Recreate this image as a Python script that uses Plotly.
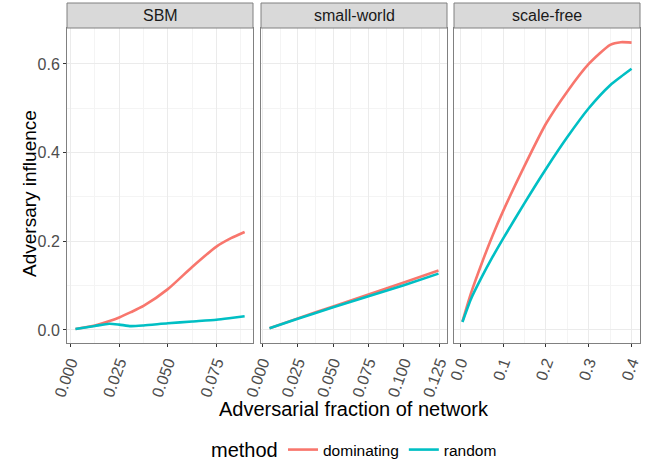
import plotly.graph_objects as go

# ---- data ----
panels = ["SBM", "small-world", "scale-free"]

sbm_x = [0.0025, 0.0125, 0.02, 0.025, 0.031, 0.0375, 0.05, 0.0625, 0.075, 0.0825, 0.0895]
sbm_dom = [0.002, 0.010, 0.020, 0.028, 0.040, 0.054, 0.092, 0.142, 0.188, 0.207, 0.221]
sbm_rand = [0.002, 0.009, 0.014, 0.012, 0.0085, 0.010, 0.015, 0.019, 0.023, 0.027, 0.031]

sw_x = [0.005, 0.025, 0.05, 0.075, 0.1, 0.1245]
sw_dom = [0.004, 0.026, 0.053, 0.080, 0.107, 0.134]
sw_rand = [0.004, 0.025, 0.051, 0.076, 0.101, 0.127]

sf_x = [0.005, 0.025, 0.05, 0.075, 0.1, 0.15, 0.2, 0.25, 0.3, 0.35, 0.375, 0.4]
sf_dom = [0.019, 0.083, 0.150, 0.212, 0.268, 0.370, 0.465, 0.538, 0.600, 0.643, 0.649, 0.648]
sf_rand = [0.018, 0.070, 0.119, 0.164, 0.206, 0.286, 0.363, 0.435, 0.500, 0.552, 0.571, 0.589]

y_ticks = [0.0, 0.2, 0.4, 0.6]
y_labels = ["0.0", "0.2", "0.4", "0.6"]
sbm_ticks = [0.0, 0.025, 0.05, 0.075]
sbm_labels = ["0.000", "0.025", "0.050", "0.075"]
sw_ticks = [0.0, 0.025, 0.05, 0.075, 0.1, 0.125]
sw_labels = ["0.000", "0.025", "0.050", "0.075", "0.100", "0.125"]
sf_ticks = [0.0, 0.1, 0.2, 0.3, 0.4]
sf_labels = ["0.0", "0.1", "0.2", "0.3", "0.4"]

methods = ["dominating", "random"]
colors = {"dominating": "#F8766D", "random": "#00BFC4"}

# ---- layout geometry ----
W, H = 654, 461
ML, MR, MT, MB = 67, 14, 28, 118
PW = W - ML - MR
PH = H - MT - MB
doms = [(67, 253), (261, 447), (454, 640)]
domains = [[(a - ML) / PW, (b - ML) / PW] for a, b in doms]

def px_x(p):
    return (p - ML) / PW

def px_y(p):
    return 1 - (p - MT) / PH

fig = go.Figure()

series = [
    (sbm_x, sbm_dom, sbm_rand),
    (sw_x, sw_dom, sw_rand),
    (sf_x, sf_dom, sf_rand),
]
for i, (xs, d, r) in enumerate(series):
    ax = "x" if i == 0 else f"x{i+1}"
    ay = "y" if i == 0 else f"y{i+1}"
    for m, ys in zip(methods, [d, r]):
        fig.add_trace(go.Scatter(
            x=xs, y=ys, mode="lines", name=m, xaxis=ax, yaxis=ay,
            line=dict(color=colors[m], width=2.6, shape="spline", smoothing=0.6),
            showlegend=(i == 0), legendgroup=m,
        ))

font_family = "Liberation Sans, Arial, sans-serif"
tickfont = dict(family=font_family, size=16, color="#4D4D4D")

def xaxis(dom, rng, ticks, labels, minor_dtick, anchor):
    return dict(
        domain=dom, range=rng, tickmode="array", tickvals=ticks, ticktext=labels,
        tickangle=-70, tickfont=tickfont, ticks="outside", ticklen=3, tickcolor="#333333",
        showgrid=True, gridcolor="#EBEBEB", gridwidth=1.1,
        minor=dict(dtick=minor_dtick, tick0=minor_dtick, showgrid=True, gridcolor="#F4F4F4", gridwidth=0.6),
        showline=True, mirror=True, linecolor="#808080", linewidth=1,
        zeroline=False, anchor=anchor, automargin=False,
    )

def yaxis(show_labels, anchor):
    return dict(
        domain=[0, 1], range=[-0.0295, 0.681], tickmode="array", tickvals=y_ticks,
        ticktext=y_labels, showticklabels=show_labels, tickfont=tickfont,
        ticks="outside" if show_labels else "", ticklen=3, tickcolor="#333333",
        showgrid=True, gridcolor="#EBEBEB", gridwidth=1.1,
        minor=dict(tickvals=[0.1, 0.3, 0.5], showgrid=True, gridcolor="#F4F4F4", gridwidth=0.6),
        showline=True, mirror=True, linecolor="#808080", linewidth=1,
        zeroline=False, anchor=anchor, automargin=False,
    )

fig.update_layout(
    width=W, height=H,
    margin=dict(l=ML, r=MR, t=MT, b=MB, autoexpand=False),
    paper_bgcolor="white", plot_bgcolor="white",
    font=dict(family=font_family),
    xaxis=xaxis(domains[0], [-0.00185, 0.0938], sbm_ticks, sbm_labels, 0.0125, "y"),
    xaxis2=xaxis(domains[1], [-0.001, 0.1305], sw_ticks, sw_labels, 0.0125, "y2"),
    xaxis3=xaxis(domains[2], [-0.0147, 0.4197], sf_ticks, sf_labels, 0.05, "y3"),
    yaxis=yaxis(True, "x"), yaxis2=yaxis(False, "x2"), yaxis3=yaxis(False, "x3"),
    showlegend=True,
    legend=dict(
        orientation="h", x=px_x(283), xanchor="left", y=px_y(450), yanchor="middle",
        font=dict(size=15.5, color="#000000", family=font_family),
        itemwidth=30, tracegroupgap=0, bgcolor="rgba(0,0,0,0)",
    ),
)

# legend title
fig.add_annotation(text="method", xref="paper", yref="paper",
                   x=px_x(209), y=px_y(450), showarrow=False,
                   font=dict(size=20, color="#000000", family=font_family),
                   xanchor="left", yanchor="middle")

# strips
strip_h = 25 / PH
for i, name in enumerate(panels):
    ax = "x" if i == 0 else f"x{i+1}"
    fig.add_shape(type="rect", xref=f"{ax} domain", yref="paper",
                  x0=0, x1=1, y0=1, y1=1 + strip_h,
                  fillcolor="#D9D9D9", line=dict(color="#808080", width=1), layer="above")
    fig.add_annotation(text=name, xref=f"{ax} domain", yref="paper",
                       x=0.5, y=1 + strip_h / 2, showarrow=False,
                       font=dict(size=16, color="#1A1A1A", family=font_family),
                       xanchor="center", yanchor="middle")

# axis titles
fig.add_annotation(text="Adversarial fraction of network", xref="paper", yref="paper",
                   x=0.5, y=px_y(409), showarrow=False,
                   font=dict(size=20, color="#000000", family=font_family),
                   xanchor="center", yanchor="middle")
fig.add_annotation(text="Adversary influence", xref="paper", yref="paper",
                   x=px_x(29), y=px_y(194), showarrow=False, textangle=-90,
                   font=dict(size=19, color="#000000", family=font_family),
                   xanchor="center", yanchor="middle")

fig.write_html("out.html")
